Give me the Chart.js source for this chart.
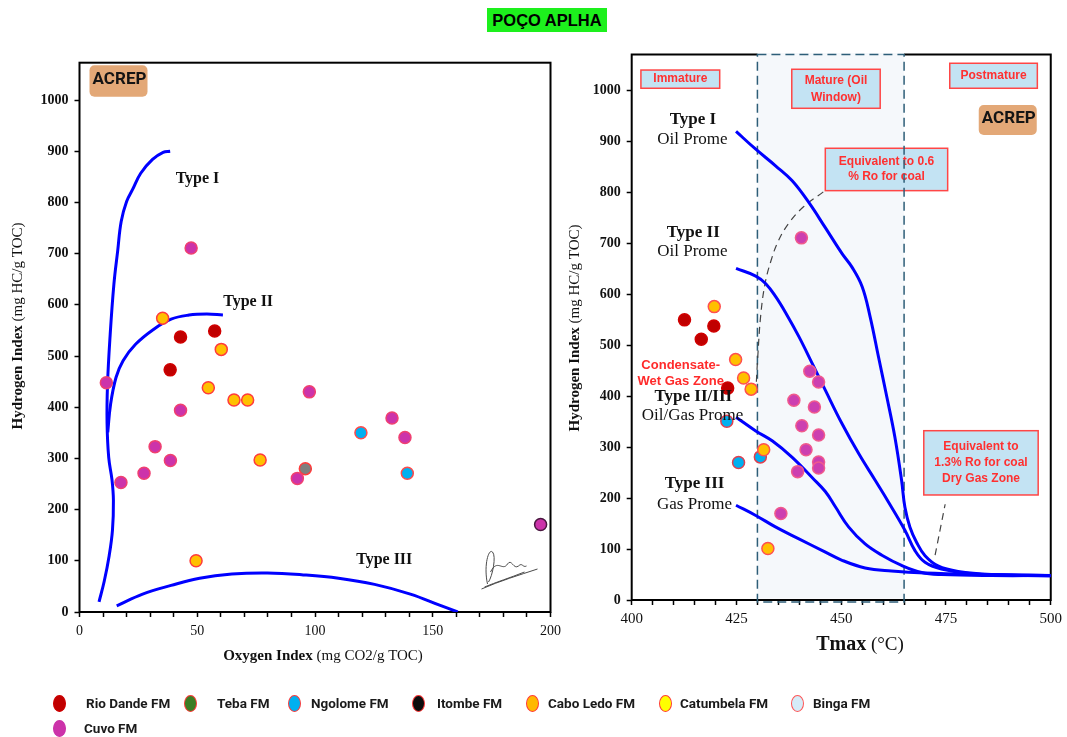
<!DOCTYPE html>
<html lang="pt">
<head>
<meta charset="utf-8">
<title>POÇO APLHA</title>
<script src="https://cdn.jsdelivr.net/npm/chart.js@4.4.1/dist/chart.umd.min.js"></script>
<style>
  html, body { margin:0; padding:0; background:#fff; }
  body { width:1067px; height:737px; position:relative; overflow:hidden; }
  #heading { position:absolute; left:487px; top:8px; width:120px; height:24px;
             display:flex; align-items:center; justify-content:center;
             background:#1DF01D; color:#000;
             font:bold 16.5px "Liberation Sans", Arial, sans-serif; }
  #vk { position:absolute; left:0; top:0; }
  #tm { position:absolute; left:560px; top:0; }
  #legend { position:absolute; left:0; top:0; width:1067px; height:737px; pointer-events:none; }
  .lg-mark { position:absolute; width:13px; height:17px; border-radius:50%; box-sizing:border-box; border:1.5px solid; }
  .lg-text { position:absolute; font:bold 13.5px Roboto, "Liberation Sans", sans-serif;
             color:#1a1a1a; line-height:18px; white-space:nowrap; }
</style>
</head>
<body>
<div id="heading">POÇO APLHA</div>
<canvas id="vk" width="570" height="680"></canvas>
<canvas id="tm" width="507" height="680"></canvas>
<div id="legend"></div>
<script>
// ---------- Formations ----------
const formations = ['Rio Dande FM', 'Teba FM', 'Ngolome FM', 'Itombe FM', 'Cabo Ledo FM', 'Catumbela FM', 'Binga FM', 'Cuvo FM'];

// ---------- Rock-Eval samples: Oxygen Index vs Hydrogen Index ----------
const rioDandeOI = [42.9, 57.4, 38.5];
const rioDandeHIvk = [537, 549, 473];
const tebaOI = [95.9];
const tebaHIvk = [280];
const ngolomeOI = [119.5, 139.2];
const ngolomeHIvk = [350, 271];
const caboLedoOI = [35.3, 60.2, 54.7, 65.6, 71.4, 76.7, 49.5];
const caboLedoHIvk = [574, 513, 438, 414, 414, 297, 100];
const cuvoOI = [11.4, 47.4, 42.9, 32.1, 38.6, 27.4, 17.6, 92.5, 97.6, 132.7, 138.2, 195.8];
const cuvoHIvk = [448, 711, 394, 323, 296, 271, 253, 261, 430, 379, 341, 171];

// ---------- Rock-Eval samples: Tmax vs Hydrogen Index ----------
const rioDandeTmax = [412.6, 416.6, 419.6, 422.9];
const rioDandeHItm = [550, 512, 538, 416];
const ngolomeTmax = [422.7, 425.5, 430.7];
const ngolomeHItm = [351, 270, 281];
const caboLedoTmax = [419.7, 424.8, 426.7, 428.5, 431.5, 432.5];
const caboLedoHItm = [576, 472, 436, 414, 295, 101];
const cuvoTmax = [440.5, 442.5, 444.6, 438.7, 443.6, 440.6, 444.6, 441.6, 444.6, 444.6, 439.6, 435.6];
const cuvoHItm = [711, 449, 428, 392, 379, 342, 324, 295, 271, 259, 252, 170];

// ---------- Kerogen type curves (Van Krevelen) ----------
const typeIOI = [8.3, 10.5, 12.6, 14.0, 14.4, 13.8, 12.4, 11.7, 11.9, 13.0, 14.6, 16.2, 17.7, 20.0, 22.5, 26.0, 31.0, 35.5, 38.5];
const typeIHI = [20, 60, 110, 160, 218, 258, 302, 370, 445, 540, 640, 705, 763, 802, 825, 857, 884, 898, 900];
const typeIIOI = [12.0, 13.2, 15.5, 18.5, 23.8, 31.4, 38.9, 46.5, 54.1, 60.9];
const typeIIHI = [351, 406, 458, 491, 523, 552, 572, 580, 582, 580];
const typeIIIOI = [15.8, 26.8, 38.9, 51.0, 64.7, 79.8, 95.0, 110.0, 125.3, 140.5, 152.6, 160.6];
const typeIIIHI = [12, 35, 52, 66, 74, 76, 72.5, 66, 54, 35, 14, 0];

// ---------- Maturity curves (Tmax vs HI) ----------
const matITmax = [424.9, 429.6, 434.4, 438.3, 442.3, 446.2, 450.2, 452.6, 455.0, 456.9, 458.9, 460.9, 462.8, 464.4, 465.2, 466.4, 468.0, 470.0, 473.1, 477.9, 485.8, 500];
const matIHI = [920, 885, 852, 823, 780, 731, 680, 653, 615, 556, 477, 398, 320, 235, 182, 143, 113, 87, 67, 56, 50, 48];
const matIITmax = [424.9, 429.6, 432.0, 434.4, 436.8, 439.9, 443.1, 446.2, 450.2, 454.2, 458.1, 461.3, 465.2, 467.6, 470.0, 473.9, 481.8, 500];
const matIIHI = [651, 636, 621, 595, 563, 517, 464, 412, 346, 287, 235, 192, 137, 97, 74, 61, 51, 47];
const matIIIIITmax = [424.9, 429.6, 433.6, 438.3, 443.1, 446.2, 448.6, 451.8, 455.7, 459.7, 464.4, 469.2, 473.9, 485.8, 500];
const matIIIIIHI = [359, 332, 312, 280, 240, 213, 183, 143, 110, 88, 68, 54, 50, 48, 48];
const matIIITmax = [424.9, 429.6, 434.4, 439.9, 445.5, 450.2, 455.7, 462.0, 470.0, 485.8, 500];
const matIIIHI = [186, 166, 143, 120, 97, 78, 63, 57, 53, 50, 48];

// Leader lines to the vitrinite-reflectance notes
const ro06Tmax = [429.6, 430.1, 430.8, 431.8, 433.2, 435.0, 437.5, 441.0, 446.0];
const ro06HI = [405, 480, 560, 620, 665, 705, 740, 772, 803];
const ro13Tmax = [472.4, 474.8];
const ro13HI = [88, 188];

// Oil window (Tmax, °C)
const oilWindowStart = 430;
const oilWindowEnd = 465;

// ---------- Tick labels ----------
const oiTickLabels = [0, 50, 100, 150, 200];
const tmaxTickLabels = [400, 425, 450, 475, 500];
const hiTickLabels = [0, 100, 200, 300, 400, 500, 600, 700, 800, 900, 1000];

// ---------- Text on the plots ----------
const vkTypeNames = ['Type I', 'Type II', 'Type III'];
const tmTypeNames = ['Type I', 'Type II', 'Type II/III', 'Type III'];
const tmTypeKinds = ['Oil Prome', 'Oil Prome', 'Oil/Gas Prome', 'Gas Prome'];

// ---------- Styles & layout ----------
const SERIF = '"Liberation Serif", "Times New Roman", serif';
const SANS = '"Liberation Sans", Arial, sans-serif';
const LOGO_FONT = 'Roboto, "Liberation Sans", sans-serif';
const CURVE_BLUE = '#0000FF';
const legendFill = ['#C00000', '#3B7D23', '#00B0F0', '#0D0D0D', '#FFB800', '#FFFF00', '#D5ECF8', '#CC33AA'];
const legendEdge = ['#D00000', '#FF3B3B', '#FF3B3B', '#FF3B3B', '#FF3B3B', '#FF3B3B', '#FF5555', '#CC33AA'];
const legendMarkLeft = [53, 184, 288, 412, 526, 659, 791, 53];
const legendTextLeft = [86, 217, 311, 437, 548, 680, 813, 84];
const legendTop = [695, 695, 695, 695, 695, 695, 695, 720];

const vkLabelAt = [[50.1, 846], [71.6, 606], [129.4, 102]];
const tmNameAt = [[414.6, 944], [414.7, 722], [414.7, 399], [415.0, 228]];
const tmKindAt = [[414.5, 905], [414.5, 685], [414.5, 362], [415.0, 188]];
const tmBoxes = [
  { lines: ['Immature'], x: [402.2, 421.0], y: [1040.5, 1004.7], lh: 15 },
  { lines: ['Mature (Oil', 'Window)'], x: [438.2, 459.3], y: [1042, 965.4], lh: 17 },
  { lines: ['Postmature'], x: [475.9, 496.8], y: [1053.8, 1004.7], lh: 15 },
  { lines: ['Equivalent to 0.6', '% Ro for coal'], x: [446.2, 475.4], y: [886.9, 803.7], lh: 15 },
  { lines: ['Equivalent to', '1.3% Ro for coal', 'Dry Gas Zone'], x: [469.7, 497.0], y: [332.4, 206.2], lh: 15.8 }
];
const condensateLines = ['Condensate-', 'Wet Gas Zone'];
const condensateAt = [[411.7, 461], [411.7, 430]];

const pts = (xs, ys) => xs.map((x, i) => ({ x, y: ys[i] }));

// ---------- Legend ----------
const legendEl = document.getElementById('legend');
formations.forEach((name, i) => {
  const m = document.createElement('div');
  m.className = 'lg-mark';
  m.style.left = legendMarkLeft[i] + 'px';
  m.style.top = legendTop[i] + 'px';
  m.style.background = legendFill[i];
  m.style.borderColor = legendEdge[i];
  legendEl.appendChild(m);
  const t = document.createElement('div');
  t.className = 'lg-text';
  t.style.left = legendTextLeft[i] + 'px';
  t.style.top = legendTop[i] - 1 + 'px';
  t.textContent = name;
  legendEl.appendChild(t);
});

// ---------- Drawing helpers ----------
function richText(ctx, parts, x, y, angle) {
  ctx.save();
  ctx.translate(x, y);
  if (angle) ctx.rotate(angle);
  ctx.textAlign = 'left';
  ctx.textBaseline = 'middle';
  ctx.fillStyle = '#111';
  let total = 0;
  parts.forEach(p => { ctx.font = p.font; p.w = ctx.measureText(p.text).width; total += p.w; });
  let cx = -total / 2;
  parts.forEach(p => { ctx.font = p.font; ctx.fillText(p.text, cx, 0); cx += p.w; });
  ctx.restore();
}

function frame(chart) {
  const { ctx, chartArea: a } = chart;
  ctx.save();
  ctx.strokeStyle = '#000';
  ctx.lineWidth = 2;
  ctx.strokeRect(a.left, a.top, a.right - a.left, a.bottom - a.top);
  ctx.restore();
}

function drawLogo(ctx, x, y, w, h) {
  ctx.save();
  ctx.fillStyle = '#E3A877';
  ctx.beginPath();
  ctx.roundRect(x, y, w, h, 5);
  ctx.fill();
  ctx.fillStyle = '#141414';
  ctx.textAlign = 'center';
  ctx.textBaseline = 'middle';
  ctx.font = 'bold 17px ' + LOGO_FONT;
  ctx.fillText('ACREP', x + w / 2 + 1, y + h / 2 - 1);
  ctx.restore();
}

function drawSignature(ctx, R, B) {
  ctx.save();
  ctx.strokeStyle = '#4a4a4a';
  ctx.lineWidth = 1;
  ctx.beginPath();
  ctx.moveTo(R - 63, B - 13);
  ctx.bezierCurveTo(R - 45, B - 21, R - 25, B - 27, R - 7, B - 33);
  ctx.moveTo(R - 60, B - 15);
  ctx.bezierCurveTo(R - 48, B - 20, R - 35, B - 24, R - 20, B - 30);
  ctx.moveTo(R - 57, B - 18);
  ctx.bezierCurveTo(R - 61, B - 36, R - 56, B - 54, R - 52, B - 50);
  ctx.bezierCurveTo(R - 48, B - 46, R - 52, B - 26, R - 56, B - 20);
  ctx.moveTo(R - 54, B - 30);
  ctx.bezierCurveTo(R - 47, B - 44, R - 42, B - 30, R - 37, B - 38);
  ctx.bezierCurveTo(R - 33, B - 44, R - 31, B - 32, R - 26, B - 36);
  ctx.bezierCurveTo(R - 22, B - 40, R - 22, B - 34, R - 18, B - 36);
  ctx.stroke();
  ctx.restore();
}

function linearAxis(min, max, step, labels, font, padding, keep) {
  return {
    type: 'linear', min, max,
    border: { display: false },
    grid: { drawOnChartArea: false, drawTicks: true, tickLength: 5, tickColor: '#000', tickWidth: 1.5 },
    ticks: {
      stepSize: step, autoSkip: false, maxRotation: 0, includeBounds: false,
      padding, color: '#111', font,
      callback: v => (labels.includes(v) ? String(v) : '')
    },
    afterFit: keep
  };
}

Chart.defaults.animation = false;

// ---------- Van Krevelen (OI vs HI) ----------
const vkDecor = {
  id: 'vkDecor',
  beforeDatasetsDraw(chart) {
    frame(chart);
    const a = chart.chartArea;
    drawLogo(chart.ctx, a.left + 10, a.top + 2.5, 58, 31.5);
  },
  afterDatasetsDraw(chart) {
    const { ctx, scales: { x, y }, chartArea: a } = chart;
    ctx.save();
    ctx.fillStyle = '#111';
    ctx.font = 'bold 16px ' + SERIF;
    ctx.textAlign = 'center';
    ctx.textBaseline = 'middle';
    vkTypeNames.forEach((s, i) => ctx.fillText(s, x.getPixelForValue(vkLabelAt[i][0]), y.getPixelForValue(vkLabelAt[i][1])));
    ctx.restore();
    drawSignature(ctx, a.right - 6, a.bottom - 10);
  },
  afterDraw(chart) {
    const ctx = chart.ctx;
    richText(ctx, [{ text: 'Hydrogen Index ', font: 'bold 15px ' + SERIF }, { text: '(mg HC/g TOC)', font: '15px ' + SERIF }], 18, 326, -Math.PI / 2);
    richText(ctx, [{ text: 'Oxygen Index ', font: 'bold 15px ' + SERIF }, { text: '(mg CO2/g TOC)', font: '15px ' + SERIF }], 323, 656);
  }
};

const pointStyle = (fill, edge) => ({
  showLine: false, pointRadius: 6, pointBorderWidth: 1.5,
  pointBackgroundColor: fill, pointBorderColor: edge, order: 0
});
const curveStyle = (color, width, dash) => ({
  showLine: true, pointRadius: 0, borderColor: color, borderWidth: width,
  borderDash: dash || [], tension: 0.4, fill: false, order: 5
});

new Chart(document.getElementById('vk'), {
  type: 'scatter',
  data: {
    datasets: [
      { label: 'Type I', data: pts(typeIOI, typeIHI), ...curveStyle(CURVE_BLUE, 3) },
      { label: 'Type II', data: pts(typeIIOI, typeIIHI), ...curveStyle(CURVE_BLUE, 3) },
      { label: 'Type III', data: pts(typeIIIOI, typeIIIHI), ...curveStyle(CURVE_BLUE, 3) },
      { label: formations[7], data: pts(cuvoOI, cuvoHIvk), ...pointStyle('#CC33AA', c => (c.raw && c.raw.x > 150 ? '#4A1840' : '#F04070')) },
      { label: formations[4], data: pts(caboLedoOI, caboLedoHIvk), ...pointStyle('#FFC000', '#FF3B3B') },
      { label: formations[0], data: pts(rioDandeOI, rioDandeHIvk), ...pointStyle('#C00000', '#D00000') },
      { label: formations[2], data: pts(ngolomeOI, ngolomeHIvk), ...pointStyle('#00B0F0', '#FF4B4B') },
      { label: formations[1], data: pts(tebaOI, tebaHIvk), ...pointStyle('#7F7F7F', '#FF3B3B') }
    ]
  },
  options: {
    responsive: false,
    events: [],
    layout: { padding: { top: 62.7, right: 19.5, left: 0, bottom: 0 } },
    plugins: { legend: { display: false }, tooltip: { enabled: false } },
    scales: {
      x: linearAxis(0, 200, 10, oiTickLabels, { family: SERIF, size: 14 }, 6, s => { s.height = 68; }),
      y: linearAxis(0, 1073, 100, hiTickLabels, { family: SERIF, size: 14, weight: 'bold' }, 6, s => { s.width = 79.5; })
    }
  },
  plugins: [vkDecor]
});

// ---------- Tmax vs HI ----------
function drawBox(ctx, xs, ys, b) {
  const L = xs.getPixelForValue(b.x[0]), R = xs.getPixelForValue(b.x[1]);
  const T = ys.getPixelForValue(b.y[0]), B = ys.getPixelForValue(b.y[1]);
  ctx.save();
  ctx.fillStyle = '#C3E3F3';
  ctx.fillRect(L, T, R - L, B - T);
  ctx.strokeStyle = '#FF4646';
  ctx.lineWidth = 1.5;
  ctx.strokeRect(L, T, R - L, B - T);
  ctx.fillStyle = '#FF3030';
  ctx.font = 'bold 12px ' + SANS;
  ctx.textAlign = 'center';
  ctx.textBaseline = 'middle';
  const cy = (T + B) / 2;
  b.lines.forEach((s, i) => ctx.fillText(s, (L + R) / 2, cy + (i - (b.lines.length - 1) / 2) * b.lh));
  ctx.restore();
}

const tmDecor = {
  id: 'tmDecor',
  beforeDatasetsDraw(chart) {
    const { ctx, scales: { x, y }, chartArea: a } = chart;
    frame(chart);
    const L = x.getPixelForValue(oilWindowStart), R = x.getPixelForValue(oilWindowEnd);
    const B = y.getPixelForValue(0);
    ctx.save();
    ctx.fillStyle = '#F5F8FB';
    ctx.fillRect(L, a.top - 1.5, R - L, B - a.top);
    ctx.restore();
    tmBoxes.forEach(b => drawBox(ctx, x, y, b));
    ctx.save();
    ctx.strokeStyle = '#2E5E78';
    ctx.lineWidth = 1.5;
    ctx.setLineDash([9, 5]);
    ctx.strokeRect(L, a.top, R - L, B + 2 - a.top);
    ctx.restore();
    drawLogo(ctx, a.right - 72, a.top + 50.5, 58, 30);
  },
  afterDatasetsDraw(chart) {
    const { ctx, scales: { x, y } } = chart;
    ctx.save();
    ctx.fillStyle = '#111';
    ctx.textAlign = 'center';
    ctx.textBaseline = 'middle';
    tmTypeNames.forEach((s, i) => {
      ctx.font = 'bold 17px ' + SERIF;
      ctx.fillText(s, x.getPixelForValue(tmNameAt[i][0]), y.getPixelForValue(tmNameAt[i][1]));
      ctx.font = '17px ' + SERIF;
      ctx.fillText(tmTypeKinds[i], x.getPixelForValue(tmKindAt[i][0]), y.getPixelForValue(tmKindAt[i][1]));
    });
    ctx.fillStyle = '#FF2A2A';
    ctx.font = 'bold 13px ' + SANS;
    condensateLines.forEach((s, i) => ctx.fillText(s, x.getPixelForValue(condensateAt[i][0]), y.getPixelForValue(condensateAt[i][1])));
    ctx.restore();
  },
  afterDraw(chart) {
    const ctx = chart.ctx;
    richText(ctx, [{ text: 'Hydrogen Index ', font: 'bold 15px ' + SERIF }, { text: '(mg HC/g TOC)', font: '15px ' + SERIF }], 15, 328, -Math.PI / 2);
    richText(ctx, [{ text: 'Tmax', font: 'bold 20px ' + SERIF }, { text: ' (°C)', font: '19px ' + SERIF }], 300, 645);
  }
};

new Chart(document.getElementById('tm'), {
  type: 'scatter',
  data: {
    datasets: [
      { label: 'Type I', data: pts(matITmax, matIHI), ...curveStyle(CURVE_BLUE, 3) },
      { label: 'Type II', data: pts(matIITmax, matIIHI), ...curveStyle(CURVE_BLUE, 3) },
      { label: 'Type II/III', data: pts(matIIIIITmax, matIIIIIHI), ...curveStyle(CURVE_BLUE, 3) },
      { label: 'Type III', data: pts(matIIITmax, matIIIHI), ...curveStyle(CURVE_BLUE, 3) },
      { label: '0.6 % Ro', data: pts(ro06Tmax, ro06HI), ...curveStyle('#444', 1.2, [7, 5]) },
      { label: '1.3 % Ro', data: pts(ro13Tmax, ro13HI), ...curveStyle('#444', 1.2, [7, 5]) },
      { label: formations[7], data: pts(cuvoTmax, cuvoHItm), ...pointStyle('#CC3FB0', '#F05A8C') },
      { label: formations[4], data: pts(caboLedoTmax, caboLedoHItm), ...pointStyle('#FFC000', '#FF5050') },
      { label: formations[2], data: pts(ngolomeTmax, ngolomeHItm), ...pointStyle('#00B0F0', '#E04050') },
      { label: formations[0], data: pts(rioDandeTmax, rioDandeHItm), ...pointStyle('#C00000', '#D00000') }
    ]
  },
  options: {
    responsive: false,
    events: [],
    layout: { padding: { top: 54.5, right: 13, left: 0, bottom: 0 } },
    plugins: { legend: { display: false }, tooltip: { enabled: false } },
    scales: {
      x: linearAxis(400, 500, 5, tmaxTickLabels, { family: SERIF, size: 15 }, 5, s => { s.height = 80; }),
      y: linearAxis(0, 1071, 100, hiTickLabels, { family: SERIF, size: 14, weight: 'bold' }, 6, s => { s.width = 71.7; })
    }
  },
  plugins: [tmDecor]
});
</script>
</body>
</html>
